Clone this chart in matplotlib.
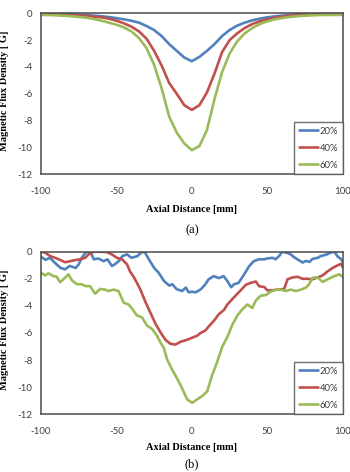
import numpy as np
import matplotlib
matplotlib.use("Agg")
import matplotlib.pyplot as plt

plt.rcParams["axes.unicode_minus"] = False

# (a) smooth curves, 5 mm steps
x_a = np.arange(-100, 101, 5)
blue_a = [-0.03, -0.04, -0.05, -0.06, -0.08, -0.10, -0.13, -0.17, -0.22, -0.28,
          -0.36, -0.45, -0.56, -0.70, -0.95, -1.25, -1.70, -2.30, -2.80, -3.30,
          -3.57, -3.25, -2.80, -2.30, -1.70, -1.25, -0.92, -0.70, -0.52, -0.40,
          -0.30, -0.23, -0.17, -0.12, -0.08, -0.06, -0.04, -0.03, -0.02, -0.02, -0.02]
red_a = [-0.08, -0.09, -0.10, -0.12, -0.14, -0.17, -0.20, -0.25, -0.30, -0.40,
         -0.55, -0.75, -1.00, -1.35, -1.90, -2.80, -3.90, -5.20, -6.00, -6.85,
         -7.20, -6.85, -5.90, -4.50, -2.90, -2.00, -1.50, -1.10, -0.80, -0.60,
         -0.45, -0.33, -0.25, -0.18, -0.13, -0.10, -0.08, -0.06, -0.05, -0.05, -0.05]
green_a = [-0.12, -0.13, -0.15, -0.18, -0.22, -0.27, -0.33, -0.42, -0.55, -0.70,
           -0.85, -1.05, -1.35, -1.85, -2.60, -3.85, -5.60, -7.70, -8.90, -9.70,
           -10.20, -9.90, -8.70, -6.40, -4.40, -3.00, -2.10, -1.50, -1.10, -0.80,
           -0.60, -0.45, -0.35, -0.27, -0.22, -0.18, -0.15, -0.13, -0.12, -0.12, -0.12]

# (b) measured curves
x_blue_b = [-100, -97, -94, -91, -87, -84, -81, -77, -75, -73, -70, -67, -65, -62,
            -58.5, -56, -53, -51, -48.5, -46, -43, -40, -36, -33, -31, -28.5, -25,
            -22, -18.5, -15, -13, -10, -6.5, -4, -2, 0, 2.5, 6, 9, 11, 14.5, 18, 21,
            23.5, 26, 28, 31, 34.5, 38, 41, 44.5, 48, 50, 53.5, 55.5, 58, 60, 63.5,
            65.5, 68, 70, 73.5, 75.5, 78, 80, 83.5, 85.5, 89, 92, 94.5, 96.5, 99, 100]
blue_b = [-0.37, -0.6, -0.45, -0.8, -1.2, -1.3, -1.05, -1.2, -0.93, -0.45, 0.0, -0.07,
          -0.56, -0.5, -0.7, -0.56, -1.05, -0.93, -0.7, -0.32, -0.2, -0.45, -0.32, 0.0,
          -0.07, -0.56, -1.2, -1.55, -2.16, -2.5, -2.4, -2.77, -2.9, -2.65, -3.0, -2.95,
          -3.0, -2.77, -2.4, -2.05, -1.8, -1.95, -1.8, -2.16, -2.62, -2.4, -2.3, -1.7,
          -1.07, -0.7, -0.56, -0.56, -0.5, -0.45, -0.56, -0.3, 0.0, -0.1, -0.2, -0.42,
          -0.56, -0.8, -0.68, -0.75, -0.53, -0.45, -0.32, -0.22, -0.07, 0.0, -0.34, -0.56, -0.75]

x_red_b = [-100, -97.3, -94, -90.7, -87.4, -84, -80.7, -77.4, -74, -70.7, -68.5,
           -65.2, -60.8, -56.3, -53, -49.7, -46.3, -43, -40.8, -38.6, -36.4, -34.1,
           -30.8, -27.5, -24.2, -20.8, -17.5, -14.2, -10.9, -7.5, -3.1, 0.2, 3.5, 5.8,
           9.1, 11.3, 14.6, 18, 21.3, 23.5, 26.8, 30.2, 32.4, 35.7, 39, 42.4, 44.6,
           47.9, 50.1, 53.4, 56.8, 61.2, 63.4, 66.7, 70.1, 73.4, 76.7, 80, 83.4, 86.7,
           90, 93.3, 96.7, 98.9, 100]
red_b = [0.0, -0.07, -0.32, -0.45, -0.6, -0.78, -0.7, -0.62, -0.56, -0.45, -0.2,
         0.0, 0.0, -0.03, -0.2, -0.45, -0.56, -0.93, -1.5, -1.85, -2.3, -2.8, -3.7,
         -4.5, -5.3, -5.95, -6.5, -6.8, -6.85, -6.65, -6.5, -6.35, -6.2, -6.0, -5.8,
         -5.5, -5.1, -4.6, -4.3, -3.9, -3.5, -3.1, -2.85, -2.45, -2.3, -2.2, -2.55,
         -2.6, -2.85, -2.85, -2.8, -2.75, -2.04, -1.9, -1.85, -2.0, -2.0, -2.04, -1.9,
         -1.75, -1.45, -1.2, -1.0, -0.9, -1.15]

x_green_b = [-100, -97.3, -95.1, -91.8, -89.6, -87.4, -84, -81.8, -79.6, -76.3, -73,
             -70.7, -67.4, -64.1, -60.8, -57.4, -55.2, -51.9, -48.6, -45.2, -41.9,
             -39.7, -36.4, -33, -29.7, -26.4, -23.1, -20.8, -18.6, -16.4, -13.1, -9.8,
             -6.4, -3.1, 0.2, 3.5, 6.9, 10.2, 13.5, 16.9, 20.2, 23.5, 26.8, 30.2, 33.5,
             36.8, 40.1, 42.4, 45.7, 49, 52.3, 55.7, 59, 62.3, 65.6, 69, 72.3, 75.6,
             77.8, 80, 83.4, 86.7, 90, 94.5, 97.8, 100]
green_b = [-1.55, -1.75, -1.6, -1.8, -1.85, -2.25, -1.92, -1.67, -2.1, -2.4, -2.4,
           -2.53, -2.55, -3.1, -2.75, -2.8, -2.9, -2.8, -2.9, -3.76, -3.9, -4.2, -4.7,
           -4.86, -5.45, -5.7, -6.2, -6.7, -7.1, -7.95, -8.7, -9.35, -10.1, -10.9,
           -11.15, -10.9, -10.65, -10.3, -9.1, -8.1, -7.0, -6.3, -5.4, -4.7, -4.25,
           -3.9, -4.15, -3.6, -3.25, -3.2, -2.95, -2.8, -2.8, -2.9, -2.8, -2.9, -2.8,
           -2.65, -2.4, -1.92, -1.9, -2.23, -2.04, -1.8, -1.67, -1.85]

labels = ["20%", "40%", "60%"]
colors = ["#4F81BD", "#C0504D", "#9BBB59"]

W, H = 350, 472
fig = plt.figure(figsize=(W / 100, H / 100), dpi=100)


def px(x, y):
    return x / W, 1 - y / H


def panel(top, bottom, series, caption, cap_y, xlab_y):
    l, b = px(41, bottom)
    r, t = px(342.7, top)
    ax = fig.add_axes([l, b, r - l, t - b])
    for (xs, ys), lab, c in zip(series, labels, colors):
        ax.plot(xs, ys, color=c, lw=1.9, label=lab, solid_capstyle="round")
    ax.set_xlim(-100, 100)
    ax.set_ylim(-12, 0)
    ax.set_xticks([-100, -50, 0, 50, 100])
    ax.set_yticks(np.arange(-12, 1, 2))
    ax.tick_params(length=0, labelsize=7.0, labelcolor="#404040", pad=6)
    ax.tick_params(axis="x", pad=9)
    for lab in ax.get_xticklabels() + ax.get_yticklabels():
        lab.set_family("Lato")
    for s in ax.spines.values():
        s.set_color("#4a4a4a")
        s.set_linewidth(1.1)
    leg = ax.legend(loc="lower right", borderaxespad=0, fancybox=False,
                    handlelength=2.0, handletextpad=0.2, labelspacing=0.85,
                    borderpad=0.5, prop={"family": "Lato", "size": 6.8})
    leg.get_frame().set_edgecolor("#4a4a4a")
    leg.get_frame().set_linewidth(1.0)
    for txt in leg.get_texts():
        txt.set_color("#404040")
    cy = (top + bottom) / 2 - 3
    fig.text(*px(5, cy), "Magnetic Flux Density [ G]", rotation=90, ha="center",
             va="center", family="Liberation Serif", weight="bold", fontsize=7.5)
    fig.text(*px(192, xlab_y), "Axial Distance [mm]", ha="center", va="center",
             family="Liberation Serif", weight="bold", fontsize=7.5)
    fig.text(*px(192, cap_y), caption, ha="center", va="center",
             family="Liberation Serif", fontsize=9)
    return ax


panel(13.3, 174.3, [(x_a, blue_a), (x_a, red_a), (x_a, green_a)], "(a)", 230, 210)
panel(251.7, 414.3, [(x_blue_b, blue_b), (x_red_b, red_b), (x_green_b, green_b)],
      "(b)", 464, 447)

fig.savefig("out.png", dpi=100)
